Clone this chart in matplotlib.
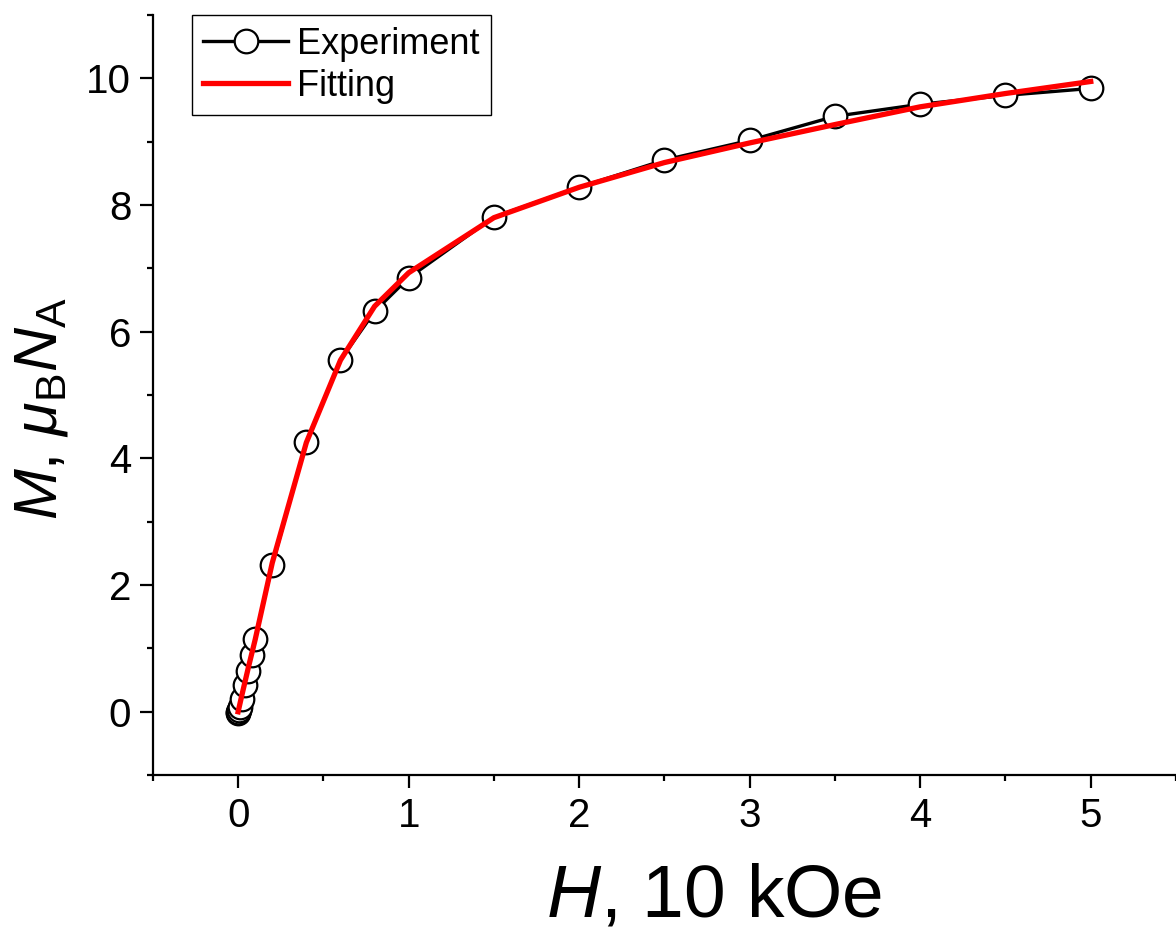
import matplotlib.pyplot as plt
import numpy as np
from matplotlib.ticker import MultipleLocator
from matplotlib import rcParams

rcParams['font.family'] = ['Liberation Sans', 'DejaVu Sans']
rcParams['mathtext.fontset'] = 'custom'
rcParams['mathtext.rm'] = 'Liberation Sans'
rcParams['mathtext.it'] = 'Liberation Sans:italic'

# experimental magnetization
H_exp = [0, 0.002, 0.005, 0.01, 0.02, 0.04, 0.06, 0.08, 0.1,
         0.2, 0.4, 0.6, 0.8, 1.0, 1.5, 2.0, 2.5, 3.0, 3.5, 4.0, 4.5, 5.0]
M_exp = [-0.02, 0.0, 0.03, 0.08, 0.2, 0.42, 0.65, 0.9, 1.15,
         2.32, 4.26, 5.55, 6.32, 6.85, 7.81, 8.28, 8.71, 9.02, 9.40, 9.59, 9.73, 9.84]

# fitted curve
H_fit = [0, 0.02, 0.04, 0.06, 0.08, 0.1, 0.2, 0.4, 0.6, 0.8, 1.0,
         1.5, 2.0, 2.5, 3.0, 3.5, 4.0, 4.5, 5.0]
M_fit = [0, 0.24, 0.47, 0.70, 0.92, 1.14, 2.35, 4.25, 5.55, 6.40, 6.93,
         7.80, 8.28, 8.67, 8.98, 9.27, 9.55, 9.76, 9.95]

fig = plt.figure(figsize=(11.76, 9.35), dpi=100)
ax = fig.add_axes([0.130, 0.171, 0.870, 0.813])

ax.plot(H_exp, M_exp, color='black', lw=2.4, marker='o', ms=17,
        mfc='white', mec='black', mew=1.6, label='Experiment', zorder=2)
ax.plot(H_fit, M_fit, color='red', lw=3.8, label='Fitting', zorder=3)

ax.set_xlim(-0.5, 5.5)
ax.set_ylim(-1, 11)
ax.xaxis.set_major_locator(MultipleLocator(1))
ax.xaxis.set_minor_locator(MultipleLocator(0.5))
ax.yaxis.set_major_locator(MultipleLocator(2))
ax.yaxis.set_minor_locator(MultipleLocator(1))

for s in ['top', 'right']:
    ax.spines[s].set_visible(False)
for s in ['left', 'bottom']:
    ax.spines[s].set_linewidth(1.6)
ax.tick_params(which='major', direction='out', length=9.5, width=1.6, labelsize=29, pad=6)
ax.tick_params(which='minor', direction='out', length=4.5, width=1.6)

ax.set_xlabel(r'$H$, 10 kOe', fontsize=54, labelpad=20)
ax.xaxis.label.set_x(0.549)
ax.set_ylabel(r'$M$, $\mu_\mathrm{B}N_\mathrm{A}$', fontsize=44, labelpad=12)
ax.yaxis.label.set_y(0.483)

leg = ax.legend(loc='upper left', bbox_to_anchor=(0.038, 1.0), borderaxespad=0,
                fontsize=26, handlelength=2.35, handletextpad=0.25, labelspacing=0.2,
                fancybox=False, framealpha=1, edgecolor='black', borderpad=0.32)
leg.get_frame().set_linewidth(1.0)

fig.savefig('out.png')
